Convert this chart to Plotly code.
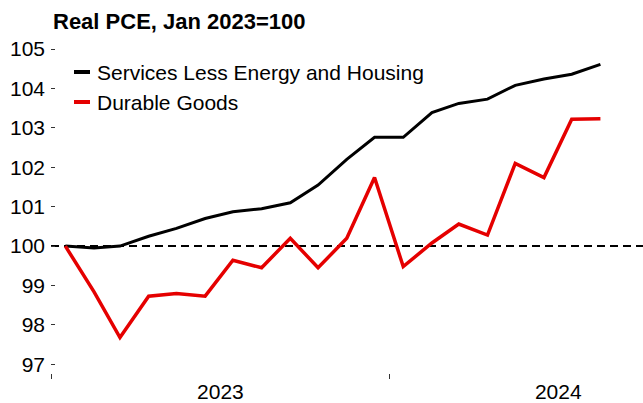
import plotly.graph_objects as go

# ---- data ----
months = ["2023-01", "2023-02", "2023-03", "2023-04", "2023-05", "2023-06",
          "2023-07", "2023-08", "2023-09", "2023-10", "2023-11", "2023-12",
          "2024-01", "2024-02", "2024-03", "2024-04", "2024-05", "2024-06",
          "2024-07", "2024-08"]
services = [100.0, 99.95, 100.0, 100.25, 100.45, 100.7, 100.87, 100.95, 101.1, 101.55,
            102.2, 102.76, 102.76, 103.39, 103.62, 103.73, 104.08, 104.24, 104.36, 104.61]
durables = [100.0, 98.84, 97.68, 98.73, 98.8, 98.73, 99.64, 99.45, 100.2, 99.45,
            100.2, 101.74, 99.48, 100.08, 100.56, 100.28, 102.1, 101.74, 103.22, 103.23]
series_names = ["Services Less Energy and Housing", "Durable Goods"]
series_colors = ["#000000", "#e50000"]
ytick_vals = [97, 98, 99, 100, 101, 102, 103, 104, 105]
title_text = "<b>Real PCE, Jan 2023=100</b>"

# mid-month positions
dates = [m + "-16" for m in months]

W, H = 643, 403
ML, MR, MT, MB = 51, 0, 40, 30
PW, PH = W - ML - MR, H - MT - MB
FONT = "Liberation Sans, Arial, sans-serif"


def px_x(p):
    return (p - ML) / PW


def px_y(p):
    return (H - MB - p) / PH


fig = go.Figure()
fig.add_trace(go.Scatter(x=dates, y=services, mode="lines", name=series_names[0],
                         line=dict(color=series_colors[0], width=3), showlegend=False))
fig.add_trace(go.Scatter(x=dates, y=durables, mode="lines", name=series_names[1],
                         line=dict(color=series_colors[1], width=3.5), showlegend=False))

# baseline at 100
fig.add_shape(type="line", xref="paper", x0=0, x1=1, yref="y", y0=100, y1=100,
              line=dict(color="black", width=2, dash="8px,5px"), layer="below")

# manual legend
legend_rows = [72, 102]
for name, col, yy in zip(series_names, series_colors, legend_rows):
    fig.add_shape(type="line", xref="paper", yref="paper",
                  x0=px_x(74), x1=px_x(90), y0=px_y(yy), y1=px_y(yy),
                  line=dict(color=col, width=4))
    fig.add_annotation(xref="paper", yref="paper", x=px_x(95), y=px_y(yy),
                       text=name, showarrow=False, xanchor="left", yanchor="middle",
                       font=dict(family=FONT, size=21, color="black"))

fig.update_layout(
    width=W, height=H,
    margin=dict(l=ML, r=MR, t=MT, b=MB, pad=0, autoexpand=False),
    paper_bgcolor="white", plot_bgcolor="white",
    font=dict(family=FONT, size=21, color="black"),
    title=dict(text=title_text, xref="container", yref="container",
               x=53 / W, xanchor="left", y=1 - 21 / H, yanchor="middle",
               font=dict(family=FONT, size=22, color="black")),
    xaxis=dict(type="date", range=["2022-12-31 12:00", "2024-10-01"],
               tick0="2023-01-01", dtick="M12", ticklabelmode="period",
               tickformat="%Y", ticks="outside", ticklen=5, tickwidth=1,
               tickcolor="#333", showgrid=False, zeroline=False, showline=False,
               automargin=False, ticklabelstandoff=-5,
               tickfont=dict(family=FONT, size=21, color="black")),
    yaxis=dict(range=[96.78, 105.23], tickmode="array", tickvals=ytick_vals,
               ticks="inside", ticklen=4, tickwidth=1, tickcolor="#333",
               showgrid=False, zeroline=False, showline=False,
               ticklabelstandoff=5, automargin=False,
               tickfont=dict(family=FONT, size=21, color="black")),
)

fig.write_html("out.html")
